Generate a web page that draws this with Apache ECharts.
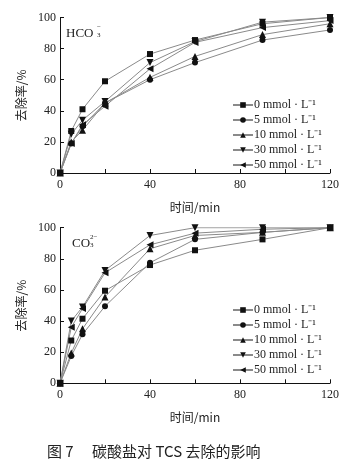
<!DOCTYPE html>
<html>
<head>
<meta charset="utf-8">
<script src="https://cdn.jsdelivr.net/npm/echarts@6/dist/echarts.min.js"></script>
<style>
  body { margin: 0; background: #fff; }
  #chart { width: 350px; height: 465px; }
</style>
</head>
<body>
<div id="chart"></div>
<script>
// 时间/min
var times = [0, 5, 10, 20, 40, 60, 90, 120];
var seriesNames = ["0 mmol · L⁻¹", "5 mmol · L⁻¹", "10 mmol · L⁻¹", "30 mmol · L⁻¹", "50 mmol · L⁻¹"];
var xTickLabels = [0, 40, 80, 120];

// HCO3- 去除率/%
var hco3_0 = [0, 27, 41, 59, 76.5, 85.5, 96, 100];
var hco3_5 = [0, 19, 30, 45, 60, 71, 85.5, 92];
var hco3_10 = [0, 20, 27.5, 45, 61.5, 75, 89, 96];
var hco3_30 = [0, 25, 34, 46, 71, 84.5, 97, 100];
var hco3_50 = [0, 19, 31, 43, 67, 84, 93.5, 98];

// CO3 2- 去除率/%
var co3_0 = [0, 27.5, 41.5, 59.5, 76, 85.5, 92.5, 100];
var co3_5 = [0, 17.5, 31.5, 49.5, 77.5, 92.5, 97, 100];
var co3_10 = [0, 19.5, 35, 55.5, 86.5, 95, 97, 100];
var co3_30 = [0, 40, 49, 72.5, 95, 100, 100, 100];
var co3_50 = [0, 36, 48, 71, 89, 96.5, 99, 100];

var symbols = ["rect", "circle", "triangle", "triangle", "triangle"];
var rotates = [0, 0, 0, 180, 90];
var symSizes = [6, 6, 7, 7, 7];

var serif = "Liberation Serif";
var cjk = "Noto Sans CJK SC";

function pair(arr) {
  return times.map(function (t, i) { return [t, arr[i]]; });
}

function makeSeries(list, idx) {
  return list.map(function (arr, i) {
    return {
      name: seriesNames[i],
      type: "line",
      xAxisIndex: idx,
      yAxisIndex: idx,
      data: pair(arr),
      symbol: symbols[i],
      symbolRotate: rotates[i],
      symbolSize: symSizes[i],
      lineStyle: { color: "#8a8a8a", width: 1 },
      itemStyle: { color: "#111" },
      animation: false
    };
  });
}

function xAxis(idx) {
  return {
    gridIndex: idx,
    type: "value",
    min: 0, max: 120, interval: 20,
    name: "时间/min",
    nameLocation: "middle",
    nameGap: 28,
    nameTextStyle: { fontFamily: cjk, fontSize: 12, color: "#222" },
    axisLine: { lineStyle: { color: "#111", width: 1 } },
    axisTick: { inside: true, length: 4, lineStyle: { color: "#111" } },
    axisLabel: {
      margin: 6, fontFamily: serif, fontSize: 12, color: "#222",
      formatter: function (v) { return xTickLabels.indexOf(v) >= 0 ? String(v) : ""; }
    },
    splitLine: { show: false }
  };
}

function yAxis(idx) {
  return {
    gridIndex: idx,
    type: "value",
    min: 0, max: 100, interval: 20,
    name: "去除率/%",
    nameLocation: "middle",
    nameGap: 33,
    nameRotate: 90,
    nameTextStyle: { fontFamily: cjk, fontSize: 12, color: "#222" },
    axisLine: { show: true, lineStyle: { color: "#111", width: 1 } },
    axisTick: { show: true, inside: true, length: 4, lineStyle: { color: "#111" } },
    axisLabel: { margin: 4, fontFamily: serif, fontSize: 12, color: "#222" },
    splitLine: { show: false }
  };
}

function legend(top) {
  return {
    left: 227, top: top,
    orient: "vertical",
    itemGap: 3,
    itemWidth: 20,
    itemHeight: 7,
    data: seriesNames,
    textStyle: { fontFamily: serif, fontSize: 12, color: "#222", padding: [0, 0, 0, -4] },
    selectedMode: false
  };
}

var chart = echarts.init(document.getElementById("chart"), null, { renderer: "canvas" });
chart.setOption({
  backgroundColor: "#fff",
  animation: false,
  grid: [
    { left: 60, right: 20, top: 17.5, height: 155.5 },
    { left: 60, right: 20, top: 227.7, height: 155.6 }
  ],
  xAxis: [xAxis(0), xAxis(1)],
  yAxis: [yAxis(0), yAxis(1)],
  legend: [legend(94), legend(299)],
  series: makeSeries([hco3_0, hco3_5, hco3_10, hco3_30, hco3_50], 0)
    .concat(makeSeries([co3_0, co3_5, co3_10, co3_30, co3_50], 1)),
  graphic: [
    { type: "text", left: 66, top: 27, style: { text: "HCO", font: "13px " + serif, fill: "#222" } },
    { type: "text", left: 97, top: 24, style: { text: "−", font: "7px " + serif, fill: "#222" } },
    { type: "text", left: 97, top: 32, style: { text: "3", font: "7px " + serif, fill: "#222" } },
    { type: "text", left: 72, top: 237, style: { text: "CO", font: "13px " + serif, fill: "#222" } },
    { type: "text", left: 90, top: 234, style: { text: "2−", font: "7px " + serif, fill: "#222" } },
    { type: "text", left: 90, top: 242, style: { text: "3", font: "7px " + serif, fill: "#222" } },
    { type: "text", left: 47, top: 444, style: { text: "图 7　 碳酸盐对 TCS 去除的影响", font: "15px '" + cjk + "'", fill: "#222" } }
  ]
});
</script>
</body>
</html>
